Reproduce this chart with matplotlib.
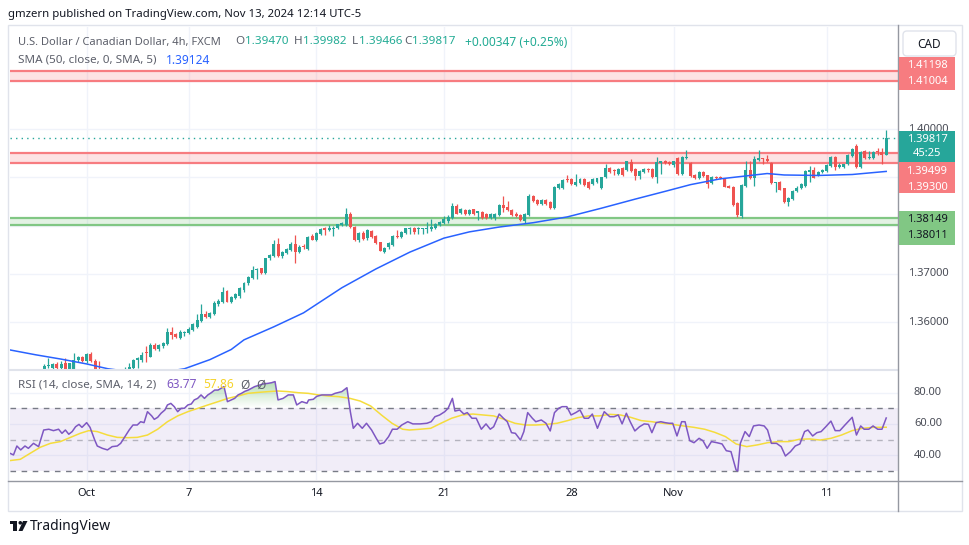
"""
USD/CAD 4h chart, TradingView style, with SMA 50, drawn zones and RSI pane
"""
import numpy as np
import matplotlib
matplotlib.use("Agg")
import matplotlib.pyplot as plt
import matplotlib.transforms as mtransforms
from matplotlib.patches import Rectangle, FancyBboxPatch, PathPatch, Circle, Polygon
from matplotlib.path import Path
from matplotlib.colors import LinearSegmentedColormap

plt.rcParams['font.family'] = ['Noto Sans', 'DejaVu Sans']

# ---- data (one 4h candle per row: open, high, low, close) ----
candles = [
    (1.3478, 1.3491, 1.3472, 1.3486), (1.3486, 1.3496, 1.3480, 1.3490), (1.3490, 1.3499, 1.3483, 1.3494),
    (1.3494, 1.3498, 1.3484, 1.3487), (1.3487, 1.3497, 1.3482, 1.3495), (1.3495, 1.3501, 1.3489, 1.3497),
    (1.3497, 1.3500, 1.3490, 1.3493), (1.3493, 1.3501, 1.3488, 1.3498), (1.3498, 1.3513, 1.3494, 1.3509),
    (1.3509, 1.3525, 1.3505, 1.3511), (1.3504, 1.3515, 1.3500, 1.3513), (1.3513, 1.3517, 1.3502, 1.3505),
    (1.3505, 1.3520, 1.3501, 1.3513), (1.3515, 1.3526, 1.3499, 1.3503), (1.3503, 1.3515, 1.3496, 1.3514),
    (1.3503, 1.3535, 1.3500, 1.3522), (1.3521, 1.3530, 1.3517, 1.3527), (1.3528, 1.3530, 1.3517, 1.3519),
    (1.3519, 1.3535, 1.3514, 1.3533), (1.3533, 1.3537, 1.3518, 1.3519), (1.3520, 1.3524, 1.3490, 1.3495),
    (1.3495, 1.3519, 1.3480, 1.3488), (1.3488, 1.3495, 1.3475, 1.3480), (1.3480, 1.3490, 1.3470, 1.3485),
    (1.3485, 1.3496, 1.3478, 1.3492), (1.3492, 1.3499, 1.3484, 1.3488), (1.3488, 1.3501, 1.3482, 1.3497),
    (1.3497, 1.3507, 1.3493, 1.3503), (1.3500, 1.3514, 1.3497, 1.3507), (1.3505, 1.3524, 1.3502, 1.3522),
    (1.3522, 1.3528, 1.3505, 1.3526), (1.3521, 1.3538, 1.3518, 1.3532), (1.3537, 1.3550, 1.3518, 1.3535),
    (1.3528, 1.3556, 1.3527, 1.3552), (1.3552, 1.3556, 1.3542, 1.3543), (1.3543, 1.3555, 1.3540, 1.3552),
    (1.3550, 1.3559, 1.3547, 1.3557), (1.3554, 1.3587, 1.3552, 1.3579), (1.3579, 1.3589, 1.3564, 1.3573),
    (1.3575, 1.3578, 1.3567, 1.3569), (1.3567, 1.3583, 1.3564, 1.3579), (1.3577, 1.3582, 1.3570, 1.3580),
    (1.3577, 1.3590, 1.3575, 1.3586), (1.3584, 1.3598, 1.3582, 1.3596), (1.3590, 1.3616, 1.3587, 1.3604),
    (1.3602, 1.3637, 1.3601, 1.3617), (1.3617, 1.3622, 1.3609, 1.3610), (1.3611, 1.3620, 1.3608, 1.3619),
    (1.3617, 1.3643, 1.3615, 1.3640), (1.3638, 1.3647, 1.3634, 1.3644), (1.3642, 1.3672, 1.3640, 1.3662),
    (1.3664, 1.3666, 1.3641, 1.3642), (1.3642, 1.3653, 1.3640, 1.3652), (1.3649, 1.3661, 1.3647, 1.3659),
    (1.3654, 1.3672, 1.3650, 1.3670), (1.3666, 1.3682, 1.3663, 1.3680), (1.3680, 1.3695, 1.3677, 1.3693),
    (1.3691, 1.3716, 1.3689, 1.3708), (1.3708, 1.3712, 1.3690, 1.3710), (1.3711, 1.3713, 1.3700, 1.3702),
    (1.3702, 1.3733, 1.3700, 1.3732), (1.3732, 1.3742, 1.3729, 1.3739), (1.3736, 1.3770, 1.3734, 1.3762),
    (1.3762, 1.3774, 1.3735, 1.3737), (1.3737, 1.3748, 1.3732, 1.3746), (1.3744, 1.3754, 1.3741, 1.3752),
    (1.3749, 1.3767, 1.3747, 1.3762), (1.3762, 1.3780, 1.3723, 1.3746), (1.3746, 1.3760, 1.3744, 1.3756),
    (1.3758, 1.3762, 1.3752, 1.3755), (1.3751, 1.3779, 1.3749, 1.3777), (1.3778, 1.3782, 1.3770, 1.3771),
    (1.3771, 1.3787, 1.3769, 1.3785), (1.3783, 1.3794, 1.3780, 1.3792), (1.3794, 1.3798, 1.3780, 1.3791),
    (1.3791, 1.3801, 1.3789, 1.3794), (1.3793, 1.3800, 1.3778, 1.3796), (1.3794, 1.3803, 1.3792, 1.3803),
    (1.3802, 1.3807, 1.3800, 1.3805), (1.3801, 1.3837, 1.3799, 1.3824), (1.3824, 1.3828, 1.3796, 1.3797),
    (1.3797, 1.3800, 1.3768, 1.3770), (1.3770, 1.3787, 1.3766, 1.3785), (1.3785, 1.3788, 1.3770, 1.3772),
    (1.3774, 1.3792, 1.3770, 1.3790), (1.3789, 1.3791, 1.3775, 1.3777), (1.3779, 1.3781, 1.3762, 1.3763),
    (1.3765, 1.3766, 1.3747, 1.3748), (1.3746, 1.3756, 1.3744, 1.3753), (1.3755, 1.3765, 1.3752, 1.3763),
    (1.3760, 1.3781, 1.3758, 1.3779), (1.3779, 1.3791, 1.3774, 1.3777), (1.3777, 1.3789, 1.3775, 1.3787),
    (1.3784, 1.3796, 1.3782, 1.3794), (1.3792, 1.3798, 1.3783, 1.3796), (1.3796, 1.3798, 1.3783, 1.3787),
    (1.3792, 1.3798, 1.3783, 1.3794), (1.3792, 1.3796, 1.3782, 1.3794), (1.3793, 1.3808, 1.3784, 1.3796),
    (1.3793, 1.3813, 1.3788, 1.3797), (1.3794, 1.3806, 1.3792, 1.3804), (1.3801, 1.3810, 1.3799, 1.3808),
    (1.3805, 1.3820, 1.3803, 1.3813), (1.3810, 1.3821, 1.3806, 1.3818), (1.3815, 1.3846, 1.3813, 1.3841),
    (1.3841, 1.3844, 1.3824, 1.3825), (1.3827, 1.3836, 1.3825, 1.3834), (1.3832, 1.3834, 1.3822, 1.3824),
    (1.3824, 1.3834, 1.3822, 1.3832), (1.3834, 1.3835, 1.3822, 1.3824), (1.3827, 1.3831, 1.3812, 1.3830),
    (1.3829, 1.3831, 1.3814, 1.3815), (1.3824, 1.3826, 1.3813, 1.3815), (1.3815, 1.3827, 1.3813, 1.3825),
    (1.3815, 1.3826, 1.3812, 1.3824), (1.3822, 1.3845, 1.3820, 1.3843), (1.3843, 1.3861, 1.3829, 1.3836),
    (1.3839, 1.3850, 1.3830, 1.3832), (1.3832, 1.3834, 1.3820, 1.3822), (1.3825, 1.3829, 1.3818, 1.3820),
    (1.3822, 1.3824, 1.3810, 1.3812), (1.3810, 1.3826, 1.3806, 1.3824), (1.3822, 1.3866, 1.3820, 1.3861),
    (1.3861, 1.3863, 1.3848, 1.3850), (1.3853, 1.3855, 1.3843, 1.3845), (1.3845, 1.3855, 1.3843, 1.3853),
    (1.3853, 1.3855, 1.3842, 1.3845), (1.3848, 1.3850, 1.3835, 1.3837), (1.3837, 1.3883, 1.3835, 1.3881),
    (1.3877, 1.3889, 1.3875, 1.3886), (1.3877, 1.3897, 1.3875, 1.3895), (1.3896, 1.3905, 1.3891, 1.3895),
    (1.3896, 1.3898, 1.3884, 1.3886), (1.3884, 1.3907, 1.3882, 1.3891), (1.3889, 1.3899, 1.3887, 1.3897),
    (1.3897, 1.3899, 1.3882, 1.3884), (1.3891, 1.3893, 1.3875, 1.3877), (1.3886, 1.3898, 1.3884, 1.3896),
    (1.3891, 1.3899, 1.3889, 1.3898), (1.3877, 1.3901, 1.3875, 1.3900), (1.3900, 1.3928, 1.3898, 1.3919),
    (1.3919, 1.3921, 1.3910, 1.3912), (1.3915, 1.3917, 1.3905, 1.3913), (1.3908, 1.3919, 1.3906, 1.3917),
    (1.3919, 1.3921, 1.3902, 1.3904), (1.3915, 1.3935, 1.3913, 1.3933), (1.3931, 1.3938, 1.3912, 1.3913),
    (1.3917, 1.3919, 1.3895, 1.3902), (1.3902, 1.3915, 1.3896, 1.3913), (1.3912, 1.3920, 1.3910, 1.3918),
    (1.3917, 1.3920, 1.3912, 1.3915), (1.3917, 1.3919, 1.3899, 1.3901), (1.3901, 1.3942, 1.3889, 1.3931),
    (1.3929, 1.3933, 1.3907, 1.3933), (1.3933, 1.3936, 1.3927, 1.3929), (1.3931, 1.3934, 1.3925, 1.3927),
    (1.3926, 1.3935, 1.3922, 1.3933), (1.3940, 1.3942, 1.3906, 1.3908), (1.3908, 1.3944, 1.3906, 1.3942),
    (1.3940, 1.3957, 1.3938, 1.3942), (1.3930, 1.3932, 1.3900, 1.3902), (1.3905, 1.3907, 1.3896, 1.3898),
    (1.3898, 1.3914, 1.3896, 1.3912), (1.3912, 1.3914, 1.3900, 1.3902), (1.3904, 1.3906, 1.3877, 1.3886),
    (1.3888, 1.3902, 1.3886, 1.3900), (1.3900, 1.3903, 1.3896, 1.3898), (1.3900, 1.3902, 1.3896, 1.3898),
    (1.3896, 1.3898, 1.3880, 1.3881), (1.3883, 1.3885, 1.3877, 1.3879), (1.3881, 1.3883, 1.3840, 1.3843),
    (1.3846, 1.3848, 1.3818, 1.3821), (1.3819, 1.3886, 1.3816, 1.3884), (1.3883, 1.3933, 1.3881, 1.3915),
    (1.3915, 1.3934, 1.3897, 1.3899), (1.3899, 1.3945, 1.3883, 1.3938), (1.3936, 1.3957, 1.3933, 1.3940),
    (1.3940, 1.3941, 1.3927, 1.3938), (1.3938, 1.3946, 1.3932, 1.3933), (1.3929, 1.3931, 1.3887, 1.3888),
    (1.3888, 1.3891, 1.3870, 1.3890), (1.3890, 1.3892, 1.3873, 1.3874), (1.3877, 1.3879, 1.3847, 1.3848),
    (1.3848, 1.3860, 1.3841, 1.3858), (1.3855, 1.3873, 1.3853, 1.3872), (1.3872, 1.3882, 1.3870, 1.3877),
    (1.3877, 1.3888, 1.3875, 1.3886), (1.3883, 1.3916, 1.3881, 1.3913), (1.3912, 1.3924, 1.3891, 1.3915),
    (1.3915, 1.3922, 1.3899, 1.3899), (1.3905, 1.3913, 1.3903, 1.3912), (1.3912, 1.3917, 1.3910, 1.3915),
    (1.3913, 1.3928, 1.3911, 1.3926), (1.3924, 1.3945, 1.3922, 1.3943), (1.3943, 1.3945, 1.3915, 1.3922),
    (1.3922, 1.3929, 1.3919, 1.3926), (1.3922, 1.3928, 1.3920, 1.3927), (1.3927, 1.3949, 1.3925, 1.3946),
    (1.3945, 1.3962, 1.3943, 1.3959), (1.3966, 1.3969, 1.3920, 1.3922), (1.3922, 1.3954, 1.3920, 1.3952),
    (1.3955, 1.3957, 1.3938, 1.3940), (1.3940, 1.3955, 1.3939, 1.3943), (1.3941, 1.3954, 1.3939, 1.3953),
    (1.3954, 1.3960, 1.3946, 1.3952), (1.3952, 1.3960, 1.3927, 1.3947), (1.39470, 1.39982, 1.39466, 1.39817),
]

# SMA(50) read at candle positions
sma_points = [
    (0, 1.3542), (6, 1.3532), (12, 1.3523), (18, 1.3513), (23, 1.3503), (30, 1.3495), (36, 1.3496),
    (41, 1.3503), (47, 1.3522), (52, 1.3543), (55, 1.3563), (62, 1.3590), (69, 1.3619), (78, 1.3671),
    (86, 1.3710), (94, 1.3745), (102, 1.3774), (108, 1.3787), (115, 1.3797), (123, 1.3806), (131, 1.3818),
    (139, 1.3836), (147, 1.3855), (154, 1.3871), (160, 1.3885), (167, 1.3897), (174, 1.3904), (178, 1.3908),
    (182, 1.3905), (190, 1.3904), (198, 1.3906), (206, 1.39124),
]

rsi_points = [
    (0, 41.2), (0.8, 40.2), (1.6, 45.9), (2.5, 43.4), (3.5, 45.9), (4.3, 44.4), (5.5, 47.6), (6.7, 45.5),
    (7.9, 56.1), (9.1, 56.6), (10.2, 55.7), (11.4, 56.6), (12.2, 54.0), (13, 56.1), (13.8, 53.4), (14.6, 55.1),
    (15.4, 58.2), (16.2, 59.7), (16.9, 57.8), (18, 60.8), (18.8, 57.8), (19.9, 49.7), (20.5, 45.9), (21.7, 44.4),
    (22.9, 43.4), (24, 45.5), (25.2, 45.9), (26, 47.6), (27, 51.9), (28, 56.1), (28.9, 59.3), (29.9, 59.3),
    (30.7, 61.4), (31.5, 60.8), (32.3, 67.8), (33.3, 65.1), (33.9, 62.9), (34.7, 64.2), (35.5, 66.8), (36.4, 68.9),
    (37, 72.1), (37.8, 73.1), (38.6, 71.0), (39.4, 67.8), (40.2, 69.9), (41, 70.0), (41.8, 72.1), (42.6, 72.7),
    (43.3, 75.3), (44.1, 76.3), (44.9, 78.5), (45.7, 76.3), (46.5, 78.5), (47.3, 79.9), (48.1, 81.6), (48.9, 81.6),
    (49.6, 82.7), (50.3, 83.8), (51.1, 74.2), (52, 75.3), (52.8, 76.3), (53.6, 78.5), (54.4, 79.5), (55.2, 80.8),
    (56, 81.6), (57.5, 83.8), (58.7, 84.8), (59.5, 85.5), (60.7, 85.9), (61.5, 86.3), (62.3, 87.0), (63, 75.3),
    (64.2, 76.3), (65.4, 78.5), (66.6, 78.5), (67.4, 72.1), (68.6, 74.2), (69.8, 73.2), (70.2, 75.3), (71.3, 75.7),
    (72.1, 77.6), (73.3, 78.5), (74.5, 78.5), (75.6, 78.5), (76.4, 79.5), (78, 80.6), (79.2, 83.1),
    (80.0, 67.8), (80.7, 57.2), (81.7, 60.4), (82.8, 57.2), (83.8, 60.4), (85.0, 56.1), (86.1, 50.8), (86.9, 47.2),
    (87.9, 48.0), (89.0, 51.9), (89.9, 56.6), (91.0, 56.6), (92.1, 59.3), (93.5, 61.4), (94.7, 60.0), (96.4, 60.0),
    (98.0, 60.4), (99.0, 61.4), (99.9, 64.6), (101.0, 65.7), (102.2, 67.8), (103.0, 70.0), (104.0, 76.3),
    (104.6, 68.2), (105.7, 68.9), (106.7, 66.3), (107.5, 67.2), (108.6, 63.6), (109.6, 63.6), (110.8, 56.6),
    (111.9, 60.0), (112.9, 56.6), (113.7, 58.2), (115.0, 66.3), (116.0, 63.6), (116.9, 61.4), (117.9, 54.4),
    (118.8, 54.0), (120.0, 49.7), (120.8, 55.1), (121.7, 67.2), (122.8, 63.6), (123.6, 61.4), (124.9, 62.5),
    (126.0, 60.4), (127.0, 55.5), (128.0, 67.2), (129.0, 70.0), (129.8, 71.0), (130.9, 71.0), (131.9, 65.7),
    (133.0, 67.2), (134.0, 68.9), (135.0, 63.6), (136.0, 63.6), (136.9, 66.3), (138.1, 57.2), (138.9, 62.5),
    (139.7, 67.8), (141.0, 64.6), (142.0, 64.6), (143.0, 65.7), (143.9, 60.0), (144.9, 66.8), (145.8, 61.4),
    (146.9, 55.5), (148.0, 58.2), (149.1, 60.0), (150.1, 59.7), (150.9, 54.4), (151.9, 60.8), (153.0, 61.4),
    (154.0, 60.8), (155.0, 60.4), (155.8, 60.4), (156.8, 52.3), (157.9, 61.4), (158.7, 61.4), (159.8, 49.3),
    (160.8, 48.0), (162.0, 50.8), (162.9, 49.3), (163.9, 44.4), (164.9, 48.7), (166.2, 48.0), (167.4, 47.2),
    (168.4, 42.9), (169.5, 42.3), (170.7, 30.6), (171.1, 30.0), (171.7, 47.6), (172.8, 55.1), (173.8, 51.9),
    (174.8, 58.7), (176.1, 59.3), (177.3, 58.7), (178.1, 56.1), (179.0, 47.6), (180.2, 47.6), (181.3, 45.5),
    (182.3, 39.5), (183.5, 42.3), (184.6, 45.9), (185.7, 47.2), (186.8, 55.1), (187.6, 56.1), (188.7, 52.3),
    (189.7, 54.4), (190.7, 55.1), (191.8, 58.2), (193.0, 61.8), (194.0, 55.7), (195.1, 55.7), (196.3, 59.3),
    (198.0, 64.2), (199.0, 52.9), (200.0, 58.7), (200.8, 56.6), (201.9, 56.6), (202.9, 58.7), (204.0, 56.6),
    (205.0, 56.6), (206.0, 63.77),
]

rsi_ma_points = [
    (0, 36.6), (2.4, 37.4), (4.7, 41.2), (7.1, 45.1), (9.5, 47.6), (11.8, 48.7), (14.2, 51.4), (16.5, 54.0),
    (18.5, 55.7), (20.5, 55.1), (22.9, 52.9), (25.2, 51.4), (27.6, 51.2), (29.9, 51.4), (32.3, 52.9),
    (34.7, 56.6), (37.0, 61.4), (39.4, 65.1), (41.8, 67.8), (44.1, 69.9), (46.5, 72.1), (48.9, 74.2),
    (51.2, 76.3), (53.6, 77.8), (55.9, 79.5), (58.3, 80.1), (60.7, 80.6), (63.0, 81.0), (65.4, 80.6),
    (67.8, 79.9), (70.1, 79.5), (72.5, 78.5), (74.9, 77.8), (77.2, 77.4), (79.9, 76.3), (82.3, 74.6),
    (84.8, 71.4), (87.3, 65.7), (89.8, 60.4), (92.3, 56.6), (93.9, 56.1), (96.4, 56.6), (98.9, 57.2),
    (101.3, 60.4), (103.8, 63.6), (106.3, 65.7), (108.8, 66.3), (111.2, 65.7), (113.7, 65.1), (116.2, 62.9),
    (118.7, 60.4), (121.2, 59.3), (123.6, 59.3), (126.1, 59.7), (128.6, 60.4), (131.1, 62.1), (133.5, 64.0),
    (136.0, 65.1), (138.5, 65.1), (141.0, 66.1), (143.5, 65.7), (145.9, 64.2), (148.4, 62.1), (150.9, 61.4),
    (153.4, 60.4), (155.8, 59.7), (158.3, 58.7), (160.8, 57.8), (163.3, 56.6), (165.7, 54.6), (168.2, 51.9),
    (170.7, 47.2), (173.2, 45.5), (175.7, 46.6), (178.1, 48.0), (180.6, 48.7), (183.1, 48.7), (185.6, 50.2),
    (188.0, 50.4), (190.5, 49.7), (193.0, 50.8), (195.5, 52.9), (198.0, 55.7), (200.4, 57.2), (202.9, 57.8),
    (206.0, 57.86),
]

# drawn zones (low, high)
red_zones = [(1.41004, 1.41198), (1.39300, 1.39499)]
green_zones = [(1.38011, 1.38149)]
last_price = 1.39817

tick_idx = [18, 42, 72, 102, 132, 156, 192]
tick_labels = ["Oct", "7", "14", "21", "28", "Nov", "11"]
price_grid = [1.36, 1.37, 1.38, 1.39, 1.40, 1.41]
price_labels = [1.36, 1.37, 1.40]
rsi_grid = [40, 60, 80]

# ---- figure ----
W, H = 970, 545
fig = plt.figure(figsize=(W / 100, H / 100), dpi=100)
fig.patch.set_facecolor("white")


def px_axes(x0, y0, x1, y1, **kw):
    return fig.add_axes([x0 / W, 1 - y1 / H, (x1 - x0) / W, (y1 - y0) / H], **kw)


ax = px_axes(10, 27, 898, 369)
axr = px_axes(10, 370, 898, 480)
ov = fig.add_axes([0, 0, 1, 1], zorder=5)
ov.set_xlim(0, W)
ov.set_ylim(H, 0)
ov.axis("off")
ov.patch.set_visible(False)

XLIM = (-0.02, 208.77)
for a in (ax, axr):
    a.set_xlim(*XLIM)
    for s in a.spines.values():
        s.set_visible(False)
    a.set_xticks([])
    a.set_yticks([])
    for t in tick_idx:
        a.axvline(t, color="#f0f3fa", lw=1, zorder=0)

# ---- main pane ----
o = np.array([k[0] for k in candles])
h = np.array([k[1] for k in candles])
l = np.array([k[2] for k in candles])
c = np.array([k[3] for k in candles])
x = np.arange(len(candles))
cols = np.where(c >= o, "#26a69a", "#ef5350")

for p in price_grid:
    ax.axhline(p, color="#f0f3fa", lw=1, zorder=0)

for zones, zc in ((red_zones, "#f77c80"), (green_zones, "#81c784")):
    for lo, hi in zones:
        ax.axhspan(lo, hi, color=zc, alpha=0.22, lw=0, zorder=1)
        for v in (lo, hi):
            ax.axhline(v, color=zc, lw=1.6, zorder=1.5)

ax.axhline(last_price, color="#26a69a", lw=1, ls=(0, (1, 3)), zorder=2)

ax.vlines(x, l, h, colors=cols, lw=0.9, zorder=3)
ax.bar(x, np.maximum(np.abs(c - o), 0.00004), bottom=np.minimum(o, c), width=0.7,
       color=cols, linewidth=0, zorder=3)

sx, sy = zip(*sma_points)
ax.plot(sx, sy, color="#2962ff", lw=1.1, zorder=4)
ax.set_ylim(1.35025, 1.42120)
ax.set_xlim(*XLIM)

# ---- RSI pane ----
rx, ry = map(np.array, zip(*rsi_points))
mx, my = zip(*rsi_ma_points)
axr.axhspan(30, 70, color="#7e57c2", alpha=0.1, lw=0, zorder=0.5)
for g in rsi_grid:
    axr.axhline(g, color="#f0f3fa", lw=1, zorder=0.2)
axr.axhline(70, color="#787b86", lw=1, ls=(0, (4, 4)), zorder=1)
axr.axhline(30, color="#787b86", lw=1, ls=(0, (4, 4)), zorder=1)
axr.axhline(50, color="#787b86", lw=1, ls=(0, (4, 4)), alpha=0.5, zorder=1)

poly = axr.fill_between(rx, ry, 70, where=ry > 70, interpolate=True,
                        facecolor="none", edgecolor="none")
paths = poly.get_paths()
if paths:
    clip = PathPatch(Path.make_compound_path(*paths), transform=axr.transData,
                     facecolor="none", edgecolor="none")
    axr.add_patch(clip)
    cmap = LinearSegmentedColormap.from_list(
        "g", [(0.30, 0.69, 0.31, 0.0), (0.30, 0.69, 0.31, 0.75)])
    im = axr.imshow(np.linspace(0, 1, 256).reshape(-1, 1), extent=[XLIM[0], XLIM[1], 70, 100],
                    origin="lower", aspect="auto", cmap=cmap, zorder=1.2)
    im.set_clip_path(clip)

axr.plot(mx, my, color="#f5dc3c", lw=1.1, zorder=2)
axr.plot(rx, ry, color="#7e57c2", lw=1.1, zorder=3)
axr.set_xlim(*XLIM)
axr.set_ylim(24.2, 94.4)

# ---- frame, axes lines ----
frame = "#e0e3eb"
ov.add_patch(Rectangle((8, 25), 954, 486, fill=False, ec=frame, lw=1))
ov.plot([10, 898], [369.5, 369.5], color=frame, lw=1.5)
ov.plot([8, 962], [481, 481], color="#9598a1", lw=1)
ov.plot([898.5, 898.5], [25, 511], color="#9598a1", lw=1)

# ---- header / legend texts ----
renderer = fig.canvas.get_renderer()
inv = ov.transData.inverted()


def put(xx, yy, txt, col, fs):
    """place a text at pixel x and return the pixel x where it ends"""
    t = ov.text(xx, yy, txt, fontsize=fs, color=col, va="center")
    bb = t.get_window_extent(renderer=renderer)
    return inv.transform((bb.x1, bb.y0))[0]


ov.text(8, 14, "gmzern published on TradingView.com, Nov 13, 2024 12:14 UTC-5",
        fontsize=8.2, color="#131722", va="center")

gray = "#5d606b"
teal = "#22ab94"
put(18, 42, "U.S. Dollar / Canadian Dollar, 4h, FXCM", gray, 8)
for xx, letter, val in [(235, "O", "1.39470"), (294, "H", "1.39982"),
                        (352, "L", "1.39466"), (404, "C", "1.39817")]:
    end = put(xx, 42, letter, gray, 8.4)
    put(end + 0.5, 42, val, teal, 8.4)
put(465, 42, "+0.00347 (+0.25%)", teal, 8.6)

put(18, 60, "SMA (50, close, 0, SMA, 5)", gray, 8.4)
put(166, 60, "1.39124", "#2962ff", 8.6)

for xx, txt, col, fs in [(18, "RSI (14, close, SMA, 14, 2)", gray, 8.4), (166, "63.77", "#7e57c2", 8.6),
                         (203, "57.86", "#f5d32c", 8.6), (240, "\u00d8", gray, 8.6),
                         (256, "\u00d8", gray, 8.6)]:
    put(xx, 385, txt, col, fs)

# ---- price axis labels ----
axis_col = "#4a4d57"
py = mtransforms.blended_transform_factory(ov.transData, ax.transData)
for p in price_labels:
    ax.text(928, p, f"{p:.5f}", transform=py, fontsize=8, color=axis_col,
            ha="center", va="center", clip_on=False, zorder=6)
ry_t = mtransforms.blended_transform_factory(ov.transData, axr.transData)
for g in rsi_grid:
    axr.text(928, g, f"{g:.2f}", transform=ry_t, fontsize=8, color=axis_col,
             ha="center", va="center", clip_on=False)

# badges for zones and last price
badges = [
    (57, 90, "#f77c80", "white", [(66, "1.41198"), (82, "1.41004")]),
    (131, 162, "#26a69a", "white", [(140, "1.39817"), (153.5, "45:25")]),
    (162, 193, "#f77c80", "white", [(171, "1.39499"), (187, "1.39300")]),
    (211, 245, "#81c784", "#131722", [(219.5, "1.38149"), (236, "1.38011")]),
]
for y0, y1, fc, tc, rows in badges:
    ov.add_patch(Rectangle((899, y0), 56, y1 - y0, fc=fc, ec="none", zorder=6))
    for yy, txt in rows:
        ov.text(927, yy, txt, fontsize=8, color=tc, ha="center", va="center", zorder=7)

ov.add_patch(FancyBboxPatch((903, 31), 53, 25, boxstyle="round,pad=0,rounding_size=4",
                            fc="white", ec="#e0e3eb", lw=1, zorder=8))
ov.text(929.5, 44, "CAD", fontsize=8.5, color="#131722", ha="center", va="center", zorder=9)

# ---- time axis labels ----
tx = mtransforms.blended_transform_factory(axr.transData, ov.transData)
for t, lab in zip(tick_idx, tick_labels):
    axr.text(t, 494, lab, transform=tx, fontsize=8, color="#131722",
             ha="center", va="center", clip_on=False)

# ---- footer logo ----
logo = "#131722"
ov.add_patch(Rectangle((10, 521), 7, 3, fc=logo, ec="none"))
ov.add_patch(Rectangle((13.5, 521), 3.5, 10, fc=logo, ec="none"))
ov.add_patch(Circle((20.3, 522.8), 1.8, fc=logo, ec="none"))
ov.add_patch(Polygon([(23, 521), (27.5, 521), (22.5, 531), (18.5, 531)], closed=True, fc=logo, ec="none"))
ov.text(30, 527, "TradingView", fontsize=10, fontweight="bold", color=logo, va="center")

fig.savefig("out.png", dpi=100)
